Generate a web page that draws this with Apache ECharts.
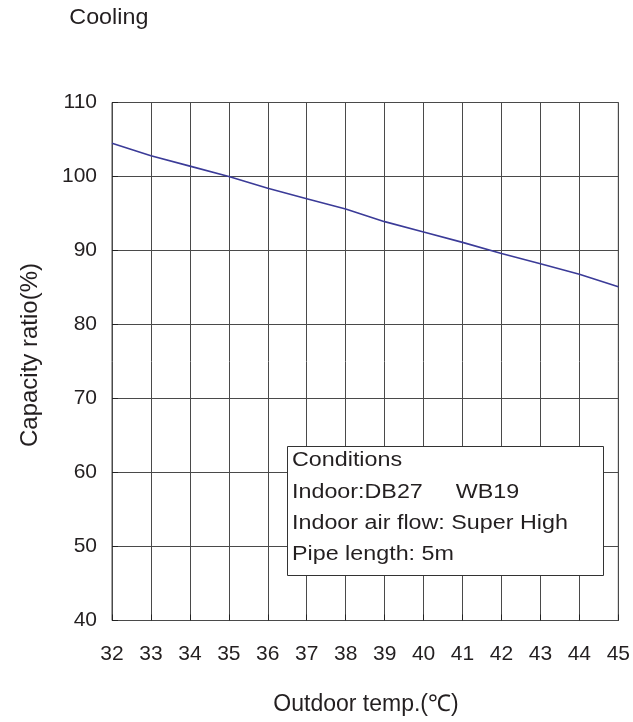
<!DOCTYPE html>
<html>
<head>
<meta charset="utf-8">
<script src="https://cdn.jsdelivr.net/npm/echarts@6/dist/echarts.min.js"></script>
<style>
html,body{margin:0;padding:0;background:#fff;}
#chart{width:633px;height:722px;}
</style>
</head>
<body>
<div id="chart"></div>
<script>
var temps = [32, 33, 34, 35, 36, 37, 38, 39, 40, 41, 42, 43, 44, 45];
var capacity = [104.5, 102.8, 101.4, 100.0, 98.4, 97.0, 95.6, 93.9, 92.5, 91.1, 89.6, 88.2, 86.8, 85.1];
var titleText = 'Cooling';
var xName = 'Outdoor temp.(\u2103)';
var yName = 'Capacity ratio(%)';
var noteLines = ['Conditions', 'Indoor:DB27', 'Indoor air flow: Super High', 'Pipe length: 5m'];
var noteExtra = 'WB19';

var FONT = '"Liberation Sans", Arial, Helvetica, sans-serif';
var TXT = '#231f20';
var GRID = '#4a4a4a';

var chart = echarts.init(document.getElementById('chart'), null, {renderer: 'canvas'});

var noteTop = [460.3, 492, 523, 554.7];
var noteGraphics = [{
  type: 'rect', z: 100,
  shape: {x: 287.5, y: 446.5, width: 316, height: 129},
  style: {fill: '#fff', stroke: '#333', lineWidth: 1}
}];
noteLines.forEach(function (t, i) {
  noteGraphics.push({
    type: 'text', z: 101, x: 292, y: noteTop[i], scaleX: 1.165,
    style: {text: t, x: 0, y: 0, fill: TXT, font: '20px ' + FONT, align: 'left', verticalAlign: 'middle'}
  });
});
noteGraphics.push({
  type: 'text', z: 101, x: 455.7, y: noteTop[1], scaleX: 1.165,
  style: {text: noteExtra, x: 0, y: 0, fill: TXT, font: '20px ' + FONT, align: 'left', verticalAlign: 'middle'}
});

var option = {
  backgroundColor: '#fff',
  animation: false,
  grid: {left: 112, top: 102.5, right: 13, bottom: 101.5, show: true, borderColor: GRID, borderWidth: 1, containLabel: false},
  xAxis: {
    type: 'value', min: 32, max: 45, interval: 1,
    axisLine: {show: false},
    axisTick: {show: true, inside: true, length: 6, lineStyle: {color: '#222'}},
    splitLine: {show: true, lineStyle: {color: GRID, width: 1}},
    axisLabel: {color: TXT, fontSize: 21, fontFamily: FONT, margin: 23}
  },
  yAxis: {
    type: 'value', min: 40, max: 110, interval: 10,
    axisLine: {show: false},
    axisTick: {show: true, inside: true, length: 6, lineStyle: {color: '#222'}},
    splitLine: {show: true, lineStyle: {color: GRID, width: 1}},
    axisLabel: {color: TXT, fontSize: 21, fontFamily: FONT, margin: 15}
  },
  series: [{
    type: 'line',
    data: temps.map(function (t, i) { return [t, capacity[i]]; }),
    showSymbol: false,
    smooth: false,
    lineStyle: {color: '#3b3b98', width: 1.6},
    z: 5
  }],
  graphic: [
    {
      type: 'text', x: 69.3, y: 18, scaleX: 1.06,
      style: {text: titleText, x: 0, y: 0, fill: TXT, font: '22px ' + FONT, align: 'left', verticalAlign: 'middle'}
    },
    {
      type: 'text', x: 366, y: 705,
      style: {text: xName, x: 0, y: 0, fill: TXT, font: '23px ' + FONT, align: 'center', verticalAlign: 'middle'}
    },
    {
      type: 'text', x: 30.7, y: 355, rotation: Math.PI / 2,
      style: {text: yName, x: 0, y: 0, fill: TXT, font: '24px ' + FONT, align: 'center', verticalAlign: 'middle'}
    }
  ].concat(noteGraphics)
};
chart.setOption(option);
</script>
</body>
</html>
